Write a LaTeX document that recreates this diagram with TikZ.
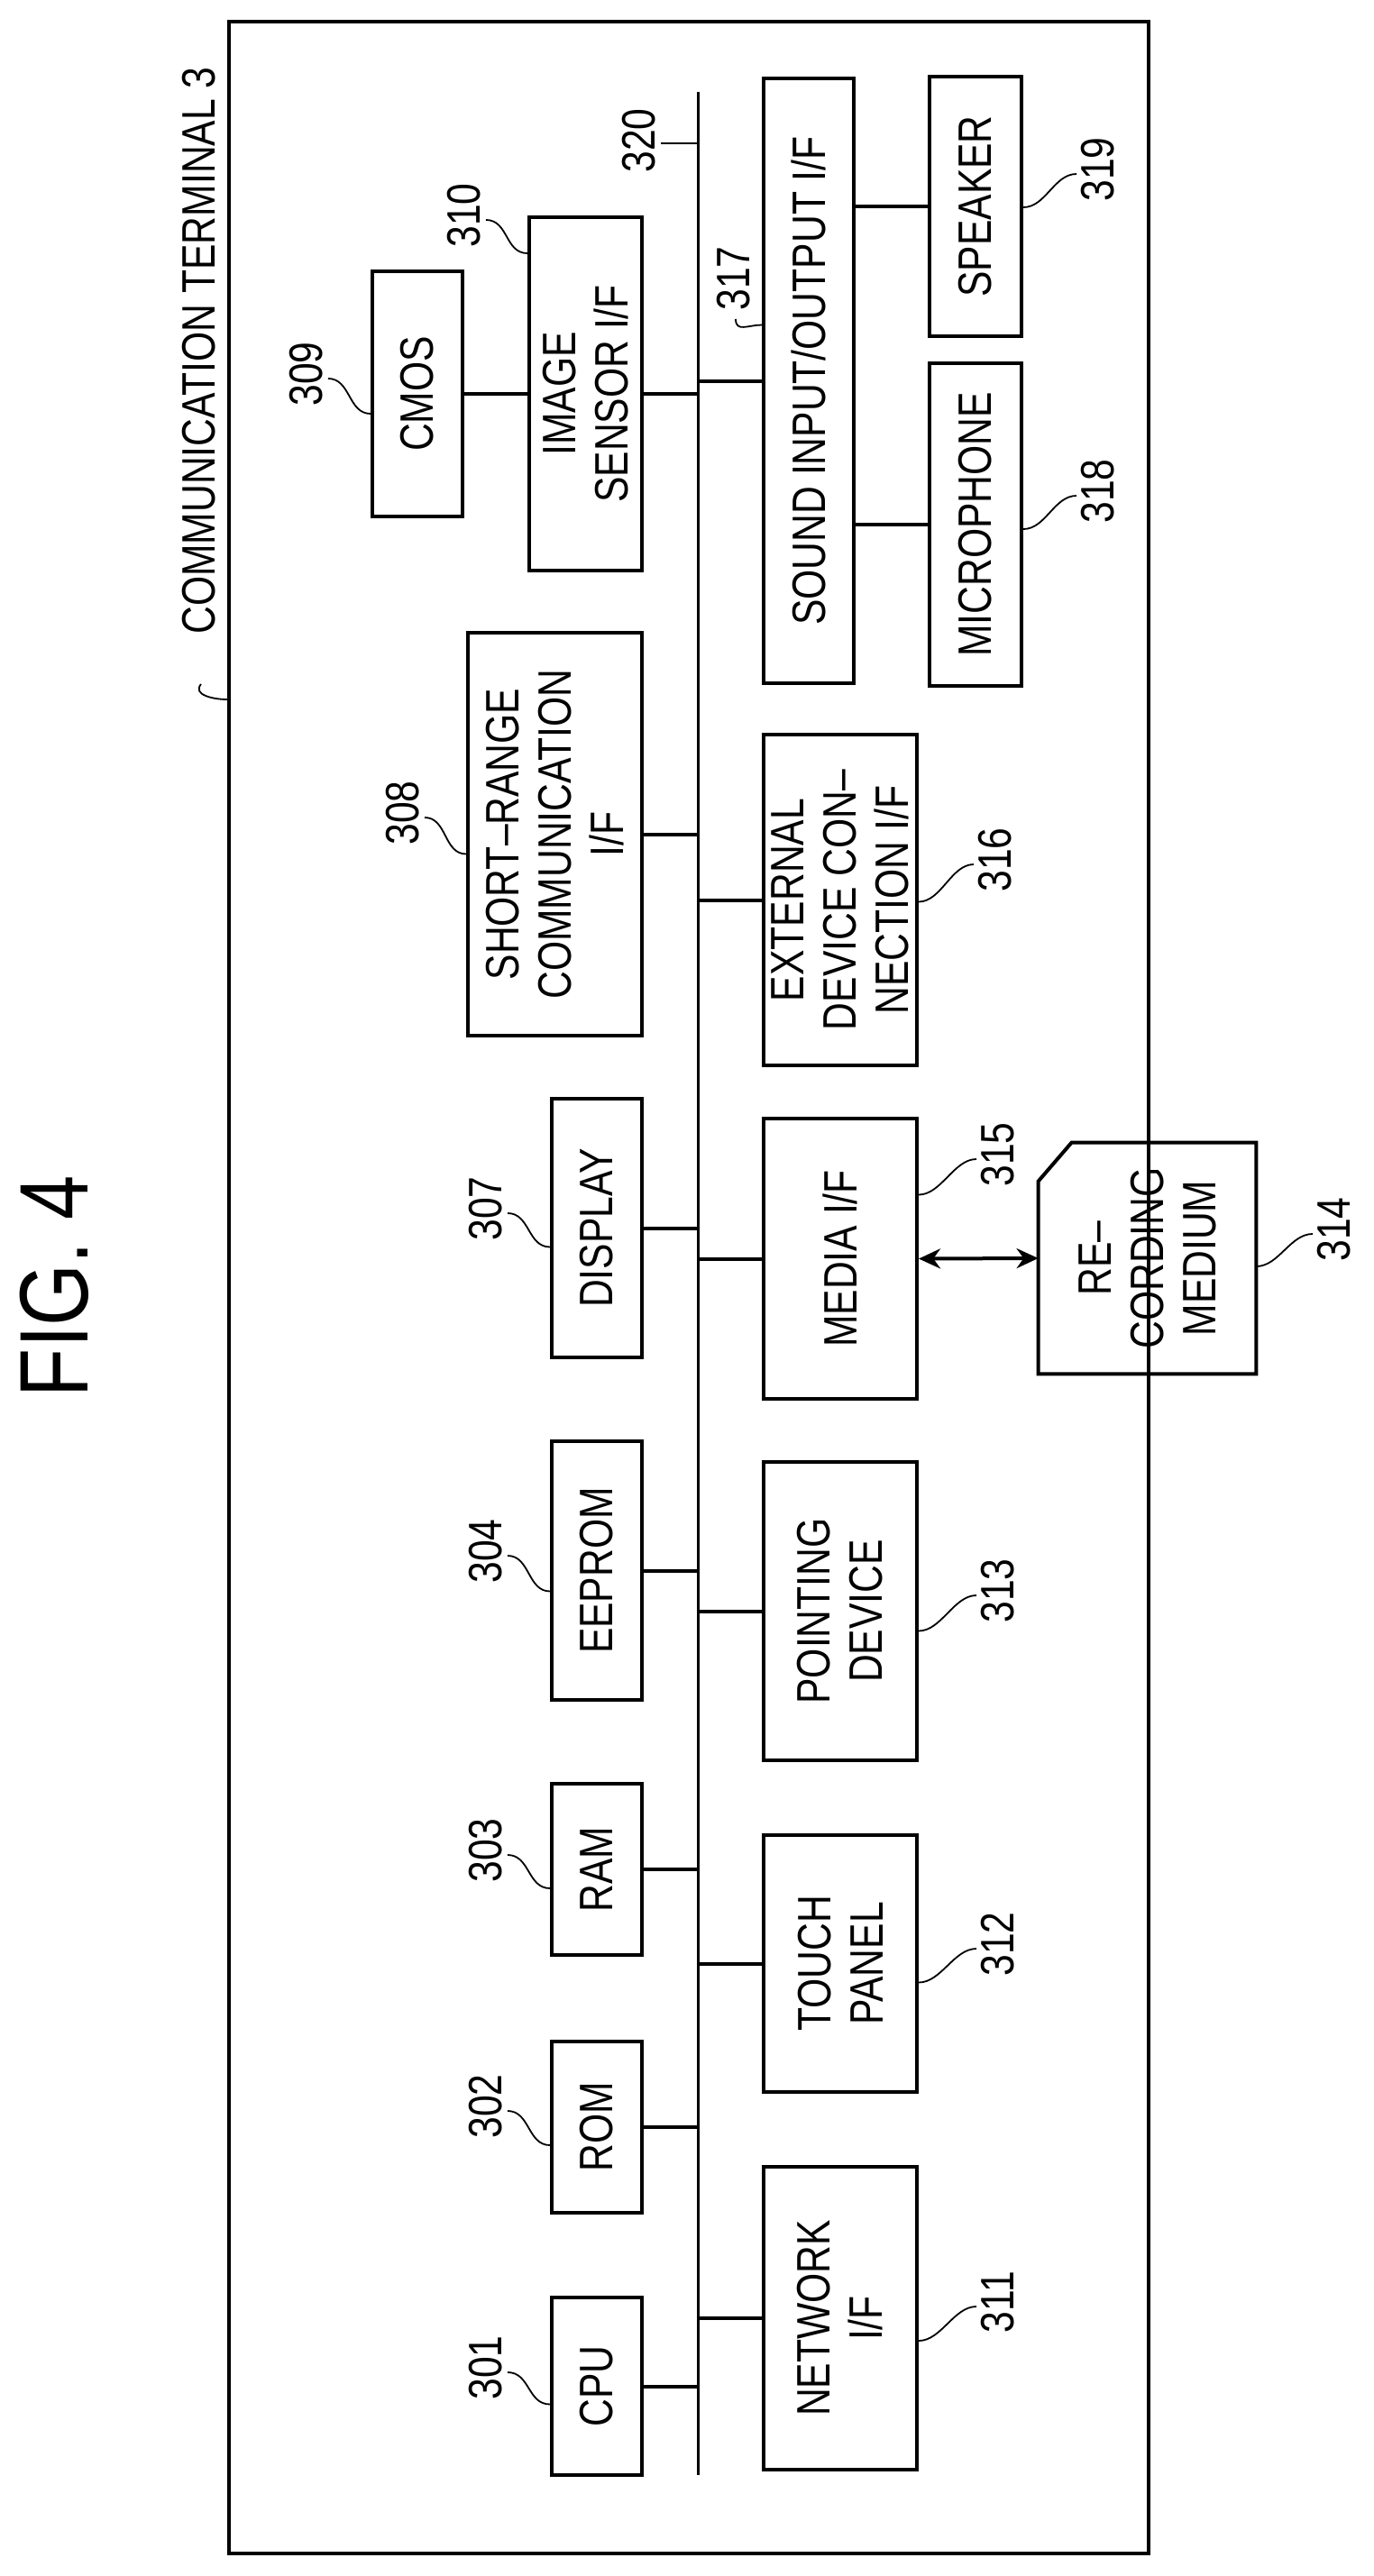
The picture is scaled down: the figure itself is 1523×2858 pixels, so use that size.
\documentclass[tikz,border=0pt]{standalone}
\usepackage{fontspec}
\setmainfont{Liberation Sans}[FakeStretch=0.82]
\usetikzlibrary{fit,calc,arrows.meta}
\begin{document}
\begin{tikzpicture}[x=0.5pt,y=-0.5pt,
  box/.style={draw,line width=2pt,inner sep=0pt},
  txt/.style={inner sep=0pt,rotate=90,align=center,font=\fontsize{26}{29}\selectfont},
  con/.style={line width=2pt},
  lead/.style={line width=0.9pt}]
\useasboundingbox (0,0) rectangle (1523,2858);
\node[box,fit={(254,24)(1274,2833)}] (frame) {};
\node[txt,font=\fontsize{54}{60}\selectfont] (title) at (60,1427) {FIG. 4};
\node[txt] (lterm) at (221,389) {COMMUNICATION TERMINAL 3};
\draw[lead] ($(lterm)+(2,370)$) .. controls +(-10,12) and +(-15,0) .. ($(frame.north west)+(0,754)$);
% bus
\coordinate (busT) at (774,102);
\coordinate (busB) at (774,2746);
\draw[line width=1.5pt] (busT) -- (busB);
% left column
\node[box,fit={(413,301)(513,573)}] (cmos) {};
\node[box,fit={(587,241)(712,633)}] (isens) {};
\node[box,fit={(519,702)(712,1149)}] (short) {};
\node[box,fit={(612,1219)(712,1506)}] (disp) {};
\node[box,fit={(612,1599)(712,1886)}] (eeprom) {};
\node[box,fit={(612,1979)(712,2169)}] (ram) {};
\node[box,fit={(612,2265)(712,2455)}] (rom) {};
\node[box,fit={(612,2549)(712,2746)}] (cpu) {};
\node[txt] (tcmos) at (cmos) {CMOS};
\node[txt] (tisens) at (isens) {IMAGE\\ SENSOR I/F};
\node[txt] (tshort) at (short) {SHORT–RANGE\\ COMMUNICATION\\ I/F};
\node[txt] (tdisp) at (disp) {DISPLAY};
\node[txt] (teeprom) at (eeprom) {EEPROM};
\node[txt] (tram) at (ram) {RAM};
\node[txt] (trom) at (rom) {ROM};
\node[txt] (tcpu) at (cpu) {CPU};
% right column
\node[box,fit={(847,87)(947,758)}] (sound) {};
\node[box,fit={(1031,85)(1133,373)}] (spk) {};
\node[box,fit={(1031,403)(1133,761)}] (mic) {};
\node[box,fit={(847,815)(1017,1182)}] (ext) {};
\node[box,fit={(847,1241)(1017,1552)}] (media) {};
\node[inner sep=0pt,fit={(1152,1268)(1393,1524)}] (rec) {};
\draw[line width=2pt] (rec.south west) -- ($(rec.north west)+(0,43)$) -- ($(rec.north west)+(37,0)$) -- (rec.north east) -- (rec.south east) -- cycle;
\node[box,fit={(847,1622)(1017,1953)}] (point) {};
\node[box,fit={(847,2036)(1017,2321)}] (touch) {};
\node[box,fit={(847,2404)(1017,2740)}] (net) {};
\node[txt] (tsound) at (sound) {SOUND INPUT/OUTPUT I/F};
\node[txt] (tspk) at (spk) {SPEAKER};
\node[txt] (tmic) at (mic) {MICROPHONE};
\node[txt] (text) at (ext) {EXTERNAL\\ DEVICE CON–\\ NECTION I/F};
\node[txt] (tmedia) at (media) {MEDIA I/F};
\node[txt] (trec) at (rec) {RE–\\ CORDING\\ MEDIUM};
\node[txt] (tpoint) at (point) {POINTING\\ DEVICE};
\node[txt] (ttouch) at (touch) {TOUCH\\ PANEL};
\node[txt] (tnet) at (net) {NETWORK\\ I/F};
% connectors
\draw[con] (cmos.east) -- (isens.west);
\foreach \n in {isens,short,disp,eeprom,ram,rom,cpu} \draw[con] (\n.east) -- (\n.east -| busT);
\foreach \n in {sound,ext,media,point,touch,net} \draw[con] (\n.west) -- (\n.west -| busT);
\draw[con] (spk.west -| sound.east) -- (spk.west);
\draw[con] (mic.west -| sound.east) -- (mic.west);
\draw[line width=2pt,{Stealth[length=12pt,width=11pt]}-{Stealth[length=12pt,width=11pt]}] (media.east) -- (rec.west);
% reference numbers, left
\node[txt] (n309) at (340,415) {309};
\node[txt] (n310) at (515,239) {310};
\node[txt] (n308) at (447,902) {308};
\node[txt] (n307) at (539,1341) {307};
\node[txt] (n304) at (539,1721) {304};
\node[txt] (n303) at (539,2053) {303};
\node[txt] (n302) at (539,2337) {302};
\node[txt] (n301) at (539,2627) {301};
\draw[lead] ($(n309)+(24,5)$) .. controls +(25,0) and +(-25,0) .. ($(cmos.west)+(0,22)$);
\draw[lead] ($(n310)+(24,5)$) .. controls +(25,0) and +(-25,0) .. ($(isens.west)+(0,-156)$);
\draw[lead] ($(n308)+(24,5)$) .. controls +(25,0) and +(-25,0) .. ($(short.west)+(0,22)$);
\draw[lead] ($(n307)+(24,5)$) .. controls +(25,0) and +(-25,0) .. ($(disp.west)+(0,21)$);
\draw[lead] ($(n304)+(24,5)$) .. controls +(25,0) and +(-25,0) .. ($(eeprom.west)+(0,23)$);
\draw[lead] ($(n303)+(24,5)$) .. controls +(25,0) and +(-25,0) .. ($(ram.west)+(0,21)$);
\draw[lead] ($(n302)+(24,5)$) .. controls +(25,0) and +(-25,0) .. ($(rom.west)+(0,20)$);
\draw[lead] ($(n301)+(24,5)$) .. controls +(25,0) and +(-25,0) .. ($(cpu.west)+(0,20)$);
% reference numbers, right
\node[txt] (n320) at (709,156) {320};
\node[txt] (n317) at (814,309) {317};
\node[txt] (n319) at (1218,188) {319};
\node[txt] (n318) at (1218,545) {318};
\node[txt] (n316) at (1104,954) {316};
\node[txt] (n315) at (1107,1281) {315};
\node[txt] (n314) at (1480,1364) {314};
\node[txt] (n313) at (1107,1765) {313};
\node[txt] (n312) at (1107,2157) {312};
\node[txt] (n311) at (1107,2554) {311};
\draw[lead] ($(n320)+(24,3)$) .. controls +(20,0) and +(-15,0) .. ($(busT)+(0,57)$);
\draw[lead] ($(n317)+(2,45)$) .. controls +(0,15) and +(-15,0) .. ($(sound.west)+(0,-62)$);
\draw[lead] ($(n319)+(-24,5)$) .. controls +(-25,0) and +(25,0) .. ($(spk.east)+(0,1)$);
\draw[lead] ($(n318)+(-24,5)$) .. controls +(-25,0) and +(25,0) .. ($(mic.east)+(0,5)$);
\draw[lead] ($(n316)+(-24,5)$) .. controls +(-25,0) and +(25,0) .. ($(ext.east)+(0,2)$);
\draw[lead] ($(n315)+(-24,5)$) .. controls +(-25,0) and +(25,0) .. ($(media.east)+(0,-71)$);
\draw[lead] ($(n314)+(-24,5)$) .. controls +(-25,0) and +(25,0) .. ($(rec.east)+(0,9)$);
\draw[lead] ($(n313)+(-24,5)$) .. controls +(-25,0) and +(25,0) .. ($(point.east)+(0,22)$);
\draw[lead] ($(n312)+(-24,5)$) .. controls +(-25,0) and +(25,0) .. ($(touch.east)+(0,21)$);
\draw[lead] ($(n311)+(-24,5)$) .. controls +(-25,0) and +(25,0) .. ($(net.east)+(0,25)$);
\end{tikzpicture}
\end{document}
